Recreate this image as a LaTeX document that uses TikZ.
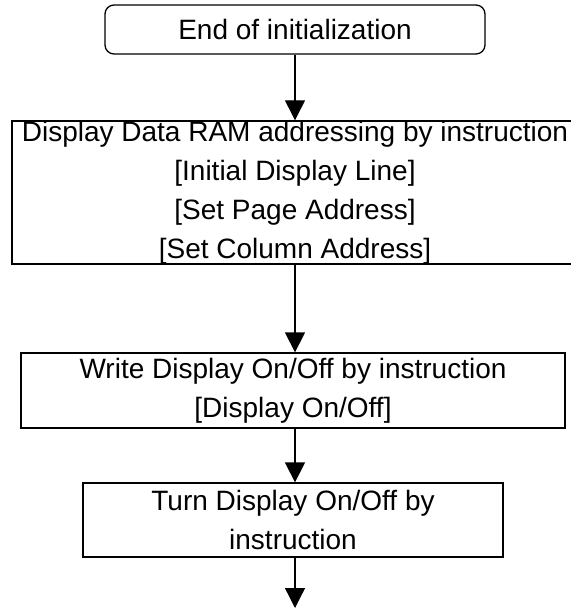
\documentclass[tikz,border=0pt]{standalone}
\usepackage{fontspec}
\setmainfont{Liberation Sans}
\usepackage{tikz}
\usetikzlibrary{arrows.meta,positioning}

\begin{document}
\begin{tikzpicture}[
    x=1pt, y=-1pt,
    startstop/.style={rectangle, rounded corners=9pt, minimum width=380pt, minimum height=49pt, inner sep=0pt, text centered, draw=black, line width=1.3pt, font=\fontsize{28}{39}\selectfont},
    process/.style={rectangle, minimum height=74pt, inner sep=0pt, text centered, draw=black, line width=1.3pt, align=center, font=\fontsize{28}{39}\selectfont},
    arrow/.style={line width=1.3pt, -{Triangle[width=20pt,length=20pt]}}
]
    \useasboundingbox (0,0) rectangle (570,610);

    \node[startstop] (finish) at (295, 29.5) {End of initialization};
    \node[process, minimum width=566pt, minimum height=143pt] (ramaddr) at (295, 192.5)
        {Display Data RAM addressing by instruction\\{[Initial Display Line]}\\{[Set Page Address]}\\{[Set Column Address]}};
    \node[process, minimum width=544pt, minimum height=75pt] (writedisp) at (293, 390.5)
        {Write Display On/Off by instruction\\{[Display On/Off]}};
    \node[process, minimum width=420pt] (turndisp) at (293, 520)
        {Turn Display On/Off by\\instruction};
    \coordinate (tail) at (295, 608);

    % straight chain downwards
    \draw[arrow] (finish.south) -- (finish.south |- ramaddr.north);
    \draw[arrow] (ramaddr.south -| finish.south) -- (finish.south |- writedisp.north);
    \draw[arrow] (writedisp.south -| finish.south) -- (finish.south |- turndisp.north);
    \draw[arrow] (turndisp.south -| tail) -- (tail);

\end{tikzpicture}
\end{document}
